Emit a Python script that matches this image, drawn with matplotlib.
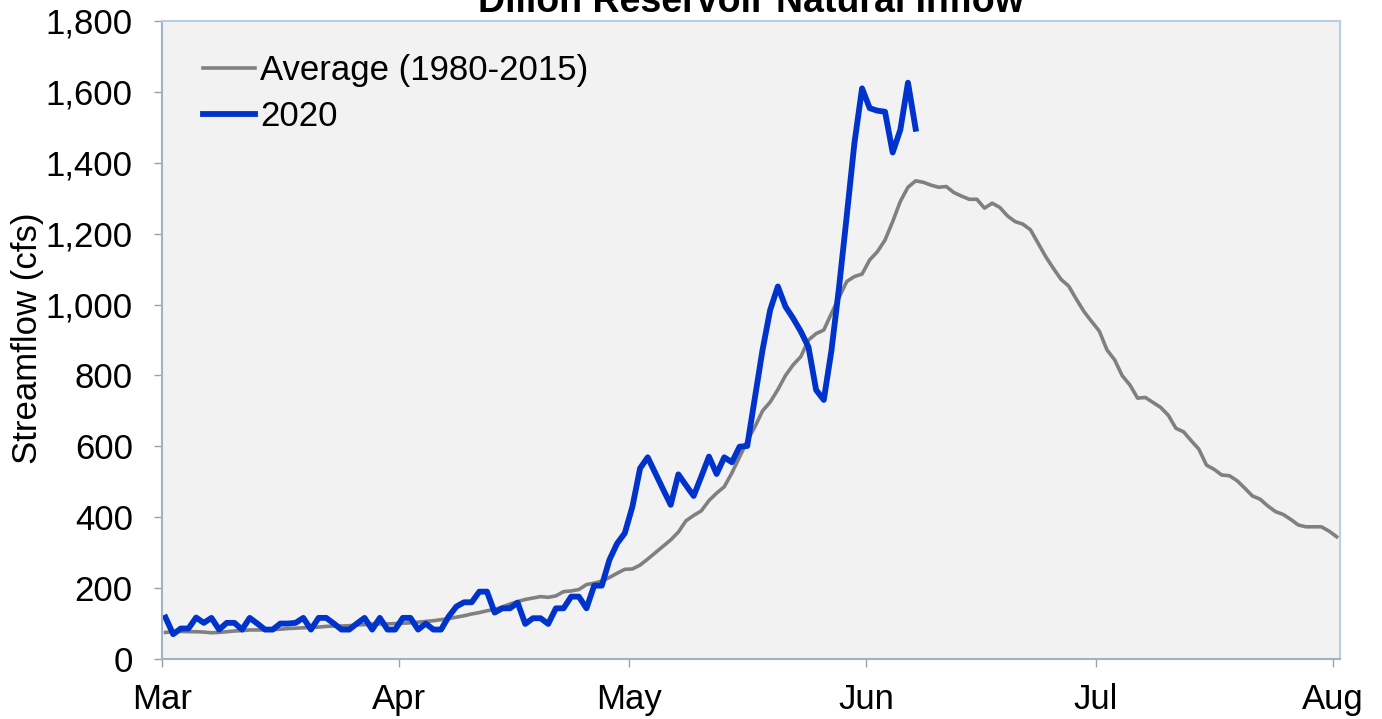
import numpy as np
import pandas as pd
import matplotlib
matplotlib.use("Agg")
import matplotlib.pyplot as plt
from matplotlib.ticker import FuncFormatter

plt.rcParams['font.family'] = ['Liberation Sans', 'DejaVu Sans']

title = "Dillon Reservoir Natural Inflow"
ylabel = "Streamflow (cfs)"
avg_label = "Average (1980-2015)"
cur_label = "2020"
start_date = "2020-03-01"
month_labels = ["Mar", "Apr", "May", "Jun", "Jul", "Aug"]

average = [
    75, 77, 78, 77, 77, 76, 74, 75, 77, 79,
    80, 82, 82, 82, 83, 84, 86, 87, 88, 89,
    90, 92, 93, 93, 94, 96, 97, 99, 99, 99,
    100, 101, 102, 104, 106, 108, 111, 114, 118, 122,
    127, 131, 136, 140, 147, 155, 162, 168, 172, 176,
    174, 178, 190, 192, 196, 210, 214, 220, 230, 242,
    253, 254, 265, 282, 300, 318, 336, 358, 390, 405,
    418, 447, 468, 486, 525, 570, 615, 655, 700, 725,
    760, 800, 830, 853, 900, 918, 928, 975, 1020, 1065,
    1079, 1086, 1126, 1149, 1182, 1234, 1291, 1331, 1349, 1345,
    1337, 1331, 1333, 1316, 1306, 1297, 1297, 1272, 1286, 1274,
    1250, 1234, 1227, 1211, 1173, 1135, 1102, 1071, 1052, 1015,
    980, 952, 925, 872, 844, 799, 773, 736, 738, 724,
    710, 688, 651, 641, 616, 592, 547, 535, 519, 517,
    503, 482, 460, 451, 432, 416, 408, 394, 378, 373,
    373, 373, 361, 345,
]

flow_2020 = [
    117, 70, 86, 86, 117, 102, 116, 83, 102, 102,
    83, 116, 100, 83, 83, 100, 100, 102, 116, 83,
    116, 116, 100, 83, 83, 100, 116, 83, 116, 83,
    83, 116, 116, 83, 100, 83, 83, 120, 148, 160,
    160, 190, 190, 131, 143, 143, 159, 99, 115, 115,
    99, 143, 143, 176, 176, 143, 207, 207, 280, 326,
    355, 430, 538, 569, 524, 479, 435, 521, 490, 460,
    515, 571, 522, 569, 555, 599, 601, 737, 872, 985,
    1051, 994, 961, 924, 880, 759, 731, 870, 1050, 1250,
    1455, 1610, 1554, 1547, 1544, 1429, 1493, 1626, 1496,
]

dates_avg = pd.date_range(start_date, periods=len(average), freq="D") + pd.Timedelta(hours=11)
dates_cur = pd.date_range(start_date, periods=len(flow_2020), freq="D") + pd.Timedelta(hours=11)
month_ticks = pd.date_range(start_date, periods=len(month_labels), freq="MS")

fig = plt.figure(figsize=(13.82, 7.19), dpi=100)
ax = fig.add_axes([162/1382, 1 - 659/719, (1340-162)/1382, (659-21)/719])
ax.set_facecolor("#F2F2F2")

ax.plot(dates_avg, average, color="#808080", lw=2.6, label=avg_label, solid_joinstyle="round")
ax.plot(dates_cur, flow_2020, color="#0033CC", lw=4.2, label=cur_label, solid_joinstyle="round")

ax.set_xlim(pd.Timestamp(start_date), month_ticks[-1] + pd.Timedelta(days=0.9))
ax.set_ylim(0, 1800)
ax.set_yticks(np.arange(0, 1801, 200))
ax.yaxis.set_major_formatter(FuncFormatter(lambda v, p: f"{int(v):,}"))
ax.set_xticks(month_ticks)
ax.set_xticklabels(month_labels)

ax.tick_params(axis="y", labelsize=25, length=6, width=1, color="#A0A0A0", pad=15)
ax.tick_params(axis="x", labelsize=25, length=6, width=1, color="#A0A0A0", pad=11.5)

for s in ["top", "right"]:
    ax.spines[s].set_color("#B9CDE5")
    ax.spines[s].set_linewidth(1.5)
for s in ["left", "bottom"]:
    ax.spines[s].set_color("#9FB2CA")
    ax.spines[s].set_linewidth(1.5)

fig.text(28/1382, 1 - 338/719, ylabel, rotation=90, ha="center", va="center",
         fontsize=25)

fig.text(751/1382, 1 - 12/719, title, ha="center", va="baseline",
         fontsize=27, fontweight="bold")

leg = ax.legend(loc="upper left", bbox_to_anchor=(203/1382, 1 - 54/719),
                bbox_transform=fig.transFigure, frameon=False, fontsize=25,
                handlelength=1.5, handletextpad=0.15, labelspacing=0.38,
                borderaxespad=0, borderpad=0)

fig.savefig("out.png", dpi=100)
